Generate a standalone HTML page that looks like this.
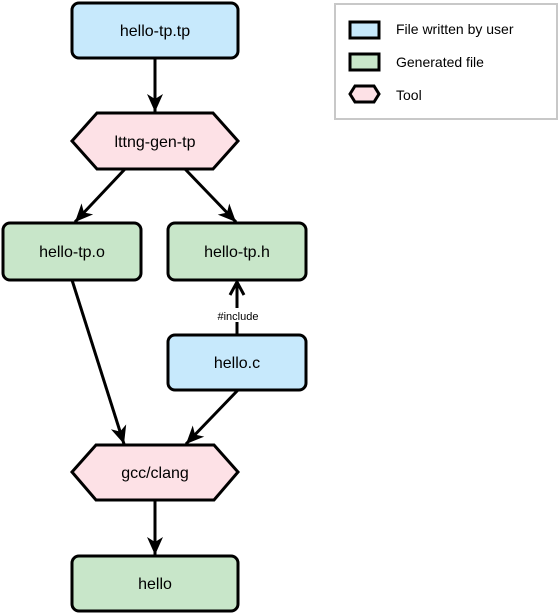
<!DOCTYPE html>
<html><head><style>body{margin:0;background:#fff}svg{display:block}text{font-family:"Liberation Sans",Arial,sans-serif}</style></head><body>
<svg width="560" height="613" viewBox="0 0 560 613" xmlns="http://www.w3.org/2000/svg">
<defs>
<marker id="a" markerWidth="20" markerHeight="20" viewBox="0 0 20 20" refX="18" refY="10" orient="auto" markerUnits="userSpaceOnUse">
<path d="M0,2 L18,10 L0,18 L5,10 Z" fill="#000"/>
</marker>
</defs>
<g stroke="#000" stroke-width="3" font-size="16" text-anchor="middle">
<rect x="72" y="3" width="166" height="55" rx="7" fill="#c7e9fc"/>
<polygon points="72,141 97,113 213,113 238,141 213,169 97,169" fill="#fde1e6"/>
<rect x="3" y="223" width="138" height="57" rx="7" fill="#c8e6c9"/>
<rect x="168" y="223" width="138" height="57" rx="7" fill="#c8e6c9"/>
<rect x="168" y="335" width="138" height="55" rx="7" fill="#c7e9fc"/>
<polygon points="72,472 96,445 214,445 238,472 214,500 96,500" fill="#fde1e6"/>
<rect x="72" y="556" width="166" height="55" rx="7" fill="#c8e6c9"/>
</g>
<g stroke="#000" stroke-width="3" fill="none">
<line x1="155" y1="58" x2="155" y2="112" marker-end="url(#a)"/>
<line x1="125" y1="169" x2="75" y2="222" marker-end="url(#a)"/>
<line x1="185" y1="169" x2="236" y2="222" marker-end="url(#a)"/>
<line x1="72" y1="280" x2="124" y2="444" marker-end="url(#a)"/>
<line x1="238" y1="390" x2="186" y2="444" marker-end="url(#a)"/>
<line x1="155" y1="500" x2="155" y2="555" marker-end="url(#a)"/>
<line x1="237" y1="335" x2="237" y2="282"/>
<polyline points="230,295 237,282 244,295"/>
</g>
<rect x="212" y="308" width="52" height="14" fill="#fff"/>
<text x="238" y="320" font-size="11" text-anchor="middle">#include</text>
<g font-size="16" text-anchor="middle" fill="#000">
<text x="155" y="36">hello-tp.tp</text>
<text x="155" y="147">lttng-gen-tp</text>
<text x="72" y="257">hello-tp.o</text>
<text x="237" y="257">hello-tp.h</text>
<text x="237" y="368">hello.c</text>
<text x="155" y="478">gcc/clang</text>
<text x="155" y="589">hello</text>
</g>
<rect x="335" y="4" width="222" height="115" fill="#fff" stroke="#c8c8c8" stroke-width="2"/>
<g stroke="#000" stroke-width="3">
<rect x="350" y="22" width="29" height="16" fill="#c7e9fc"/>
<rect x="350" y="54" width="29" height="16" fill="#c8e6c9"/>
<polygon points="350,94 355,86 374,86 379,94 374,102 355,102" fill="#fde1e6"/>
</g>
<g font-size="14" fill="#000">
<text x="396" y="34">File written by user</text>
<text x="396" y="67">Generated file</text>
<text x="396" y="100">Tool</text>
</g>
</svg>
</body></html>
